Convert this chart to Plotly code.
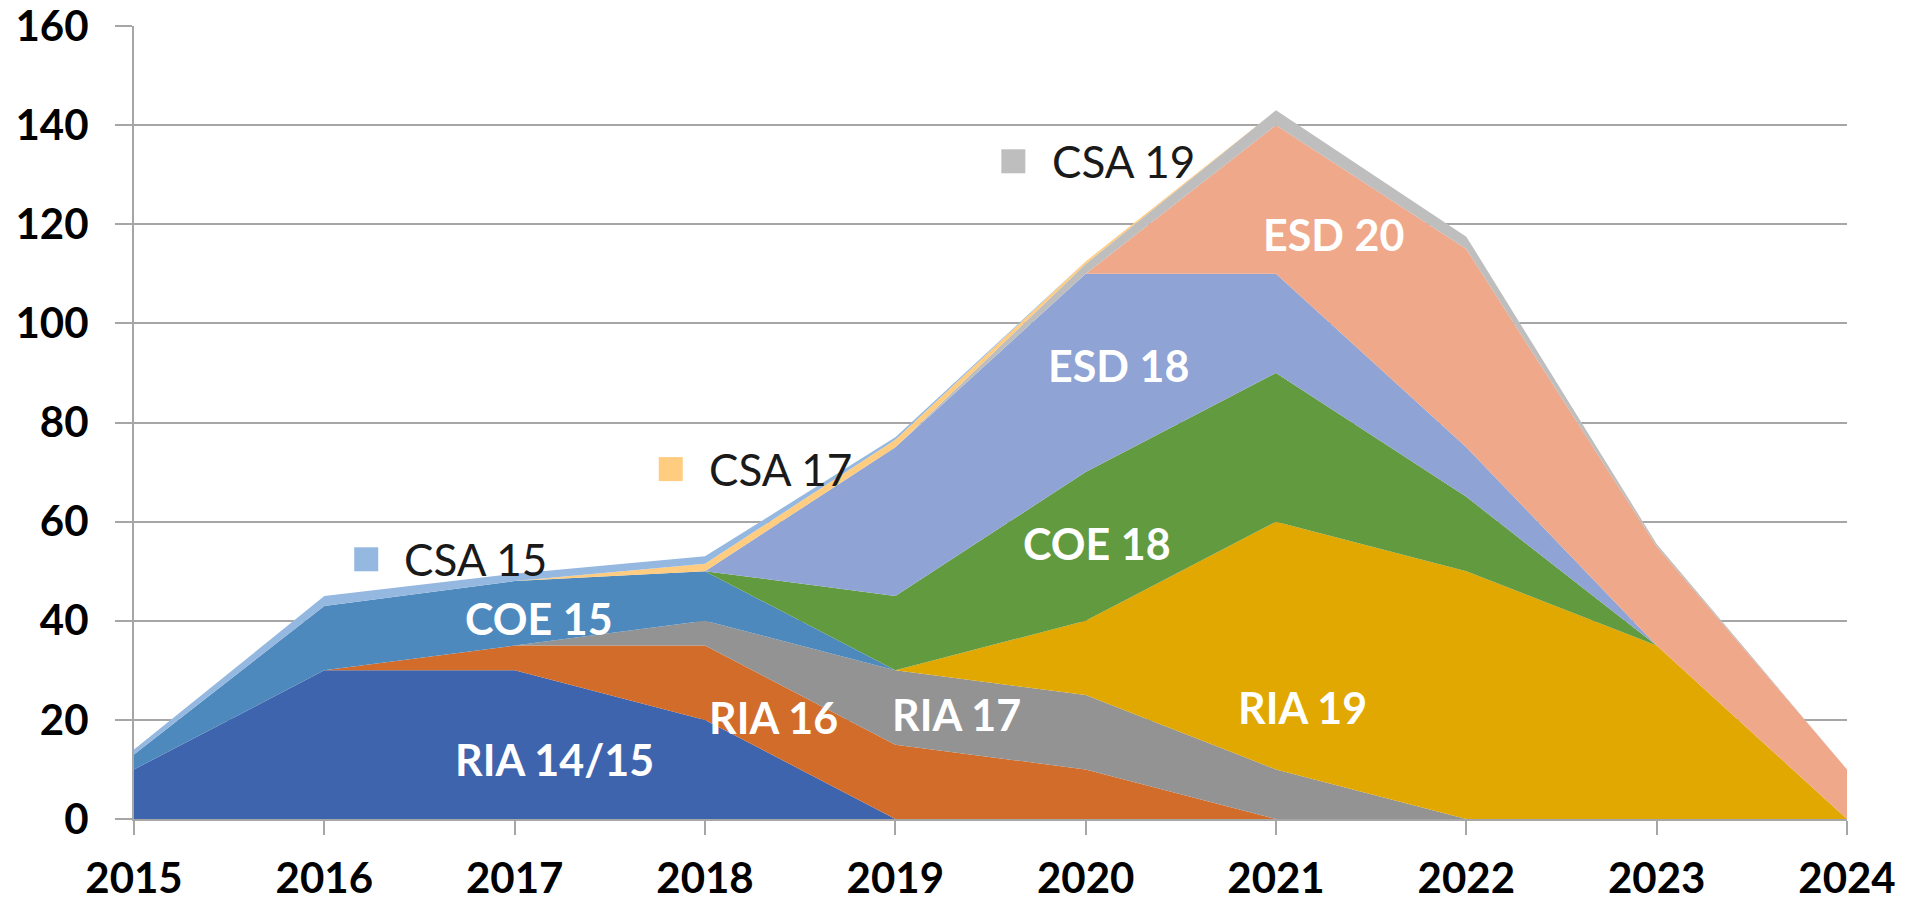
import plotly.graph_objects as go

years = [2015, 2016, 2017, 2018, 2019, 2020, 2021, 2022, 2023, 2024]

ria_14_15 = [10, 30, 30, 20, 0, 0, 0, 0, 0, 0]
ria_16 = [0, 0, 5, 15, 15, 10, 0, 0, 0, 0]
ria_17 = [0, 0, 0, 5, 15, 15, 10, 0, 0, 0]
ria_19 = [0, 0, 0, 0, 0, 15, 50, 50, 35, 0]
coe_15 = [3, 13, 13, 10, 0, 0, 0, 0, 0, 0]
coe_18 = [0, 0, 0, 0, 15, 30, 30, 15, 0, 0]
esd_18 = [0, 0, 0, 0, 30, 40, 20, 10, 0, 0]
esd_20 = [0, 0, 0, 0, 0, 0, 30, 40, 20, 10]
csa_19 = [0, 0, 0, 0, 0, 2, 3, 2.5, 0.5, 0]
csa_17 = [0, 0, 0, 1.5, 1.5, 0.5, 0, 0, 0, 0]
csa_15 = [1, 2, 1.5, 1.5, 0.5, 0, 0, 0, 0, 0]

series_names = ["RIA 14/15", "RIA 16", "RIA 17", "RIA 19", "COE 15", "COE 18",
                "ESD 18", "ESD 20", "CSA 19", "CSA 17", "CSA 15"]
series_values = [ria_14_15, ria_16, ria_17, ria_19, coe_15, coe_18,
                 esd_18, esd_20, csa_19, csa_17, csa_15]
series_colors = ["#3F64AE", "#D26C2B", "#939393", "#E0A800", "#4E89BE", "#629A3F",
                 "#8FA3D4", "#EFA88A", "#BEBEBE", "#FFCC80", "#95B8E0"]

y_ticks = [0, 20, 40, 60, 80, 100, 120, 140, 160]

# in-area label positions (year, value)
area_labels = [
    ("RIA 14/15", 2017.21, 12),
    ("RIA 16", 2018.36, 20.5),
    ("RIA 17", 2019.32, 21),
    ("RIA 19", 2021.14, 22.5),
    ("COE 15", 2017.13, 40.5),
    ("COE 18", 2020.06, 55.5),
    ("ESD 18", 2020.17, 91.5),
    ("ESD 20", 2021.30, 118),
]
# legend-like keys (name, colour, year of square, value)
key_labels = [
    ("CSA 15", "#95B8E0", 2016.22, 52.4),
    ("CSA 17", "#FFCC80", 2017.82, 70.6),
    ("CSA 19", "#BEBEBE", 2019.62, 132.7),
]

FONT = "Lato"

fig = go.Figure()
for name, vals, col in zip(series_names, series_values, series_colors):
    fig.add_trace(go.Scatter(
        x=years, y=vals, name=name, mode="lines", stackgroup="one",
        line=dict(width=0, color=col), fillcolor=col, showlegend=False,
    ))

for name, col, kx, ky in key_labels:
    fig.add_trace(go.Scatter(
        x=[kx], y=[ky], mode="markers", showlegend=False, hoverinfo="skip",
        marker=dict(symbol="square", size=24, color=col, line=dict(width=0)),
    ))
    fig.add_annotation(x=kx + 0.19, y=ky, text=name, showarrow=False,
                       xanchor="left", yanchor="middle",
                       font=dict(family=FONT, size=44, color="#1A1A1A"))

for text, ax, ay in area_labels:
    fig.add_annotation(x=ax, y=ay, text=text, showarrow=False,
                       xanchor="center", yanchor="middle",
                       font=dict(family=FONT, size=43, color="white", weight="bold"))

fig.update_layout(
    width=1921, height=903,
    margin=dict(l=134, r=74, t=26, b=84),
    paper_bgcolor="white", plot_bgcolor="white",
    font=dict(family=FONT, size=42, color="black"),
)
fig.update_xaxes(
    range=[2015, 2024], tickmode="array", tickvals=years,
    ticktext=[str(y) for y in years],
    tickfont=dict(family=FONT, size=42, color="black", weight="bold"),
    showgrid=False, showline=True, linecolor="#A6A6A6", linewidth=2,
    ticks="outside", ticklen=14, tickcolor="#A6A6A6", tickwidth=2,
    ticklabelstandoff=8, zeroline=False, automargin=False,
    ticklabeloverflow="allow",
)
fig.update_yaxes(
    range=[0, 160], tickmode="array", tickvals=y_ticks,
    tickfont=dict(family=FONT, size=42, color="black", weight="bold"),
    showgrid=True, gridcolor="#A6A6A6", gridwidth=2,
    showline=True, linecolor="#A6A6A6", linewidth=2,
    ticks="outside", ticklen=17, tickcolor="#A6A6A6", tickwidth=2,
    ticklabelstandoff=18, zeroline=False, automargin=False,
    ticklabeloverflow="allow",
)

fig.write_html(
    "out.html",
    config={"displayModeBar": False},
    post_script="document.body.style.margin='0';document.body.style.overflow='hidden';",
)
